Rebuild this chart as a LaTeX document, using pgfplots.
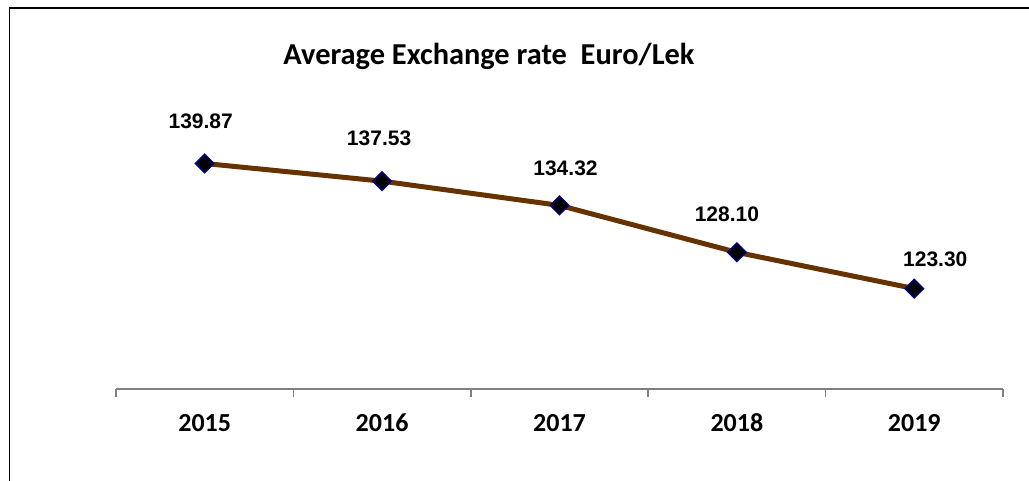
\documentclass[border=0pt]{standalone}
\usepackage{fontspec}
\setmainfont{Carlito}
\newfontfamily\arialf{Liberation Sans}
\usepackage{pgfplots}
\usepackage{pgfplotstable}
\pgfplotsset{compat=1.18}
\definecolor{linebrown}{RGB}{102,51,0}
\definecolor{marknavy}{RGB}{0,0,128}
\definecolor{axgray}{RGB}{128,128,128}
\pgfplotstableread{
x y lab dx dy
1 139.87 139.87 -4 35
2 137.53 137.53 -3 36
3 134.32 134.32 6 30
4 128.10 128.10 -10 31
5 123.30 123.30 21 22
}\ratetable
\begin{document}
\begin{tikzpicture}[x=1pt,y=1pt]
\path[use as bounding box] (0,0) rectangle (1029,481);
\draw[black, line width=1.5pt] (9.5,0) -- (9.5,473) -- (1029,473);
\node[anchor=base, font=\fontsize{30.4}{30.4}\selectfont\bfseries] at (489,416) {Average Exchange rate\ \ Euro/Lek};
\begin{axis}[
  at={(116pt,92pt)}, anchor=south west,
  scale only axis, width=887pt, height=302pt,
  xmin=0.5, xmax=5.5, ymin=110, ymax=150,
  axis x line*=bottom, hide y axis,
  axis line style={axgray, line width=1.5pt},
  xtick={1,2,3,4,5},
  xticklabels={2015,2016,2017,2018,2019},
  major tick length=0pt,
  minor xtick={0.5,1.5,2.5,3.5,4.5,5.5},
  minor tick length=8pt,
  tick align=outside,
  minor tick style={axgray, line width=1.5pt},
  xticklabel style={anchor=base, yshift=-43pt, inner sep=0pt, font=\fontsize{26}{26}\selectfont\bfseries},
  clip=false,
]
\addplot[
  linebrown, line width=5pt,
  mark=square*, mark size=6.5pt,
  mark options={rotate=45, fill=black, draw=marknavy, line width=1.5pt},
  point meta=explicit symbolic,
  visualization depends on={\thisrow{dx} \as \dx},
  visualization depends on={\thisrow{dy} \as \dy},
  nodes near coords,
  nodes near coords style={anchor=base, inner sep=0pt, xshift=\dx pt, yshift=\dy pt, text=black, font=\arialf\fontsize{21}{21}\selectfont\bfseries},
] table[x=x, y=y, meta=lab] {\ratetable};
\end{axis}
\end{tikzpicture}
\end{document}
